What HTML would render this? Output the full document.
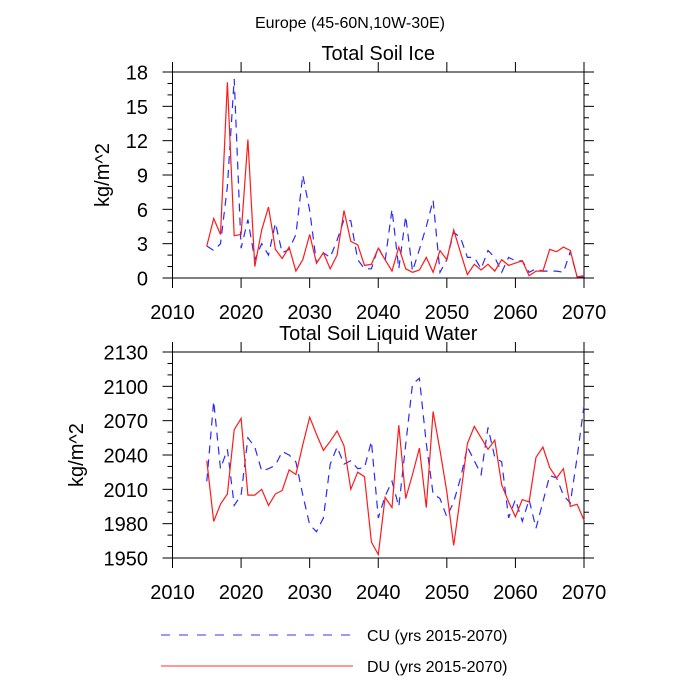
<!DOCTYPE html>
<html><head><meta charset="utf-8"><style>
html,body{margin:0;padding:0;background:#fff;}
svg{display:block;font-family:"Liberation Sans",sans-serif;}
</style></head><body>
<svg id="chart" width="700" height="700" viewBox="0 0 700 700">
<text x="350" y="28" font-size="16" text-anchor="middle">Europe (45-60N,10W-30E)</text>
<g id="p1"></g>
<g id="p2"></g>
<g>
<line x1="161" y1="635" x2="353" y2="635" stroke="#3030ff" stroke-width="1" stroke-dasharray="9,9"/>
<text x="367" y="641" font-size="16">CU (yrs 2015-2070)</text>
<line x1="161" y1="666" x2="353" y2="666" stroke="#ff3030" stroke-width="1"/>
<text x="367" y="672" font-size="16">DU (yrs 2015-2070)</text>
</g>
</svg>
<script>
const years = [];
for (let y = 2015; y <= 2070; y++) years.push(y);
const xTicks = [2010,2020,2030,2040,2050,2060,2070];
const iceTicks = [0,3,6,9,12,15,18];
const liqTicks = [1950,1980,2010,2040,2070,2100,2130];
const iceCU = [2.8,2.4,3.0,8.0,17.4,2.6,5.1,1.6,3.0,2.0,4.8,2.2,2.5,3.8,9.0,5.9,1.3,2.2,1.8,3.3,5.1,5.0,1.6,0.8,0.8,2.7,
  1.5,6.0,0.8,5.4,0.6,2.5,4.5,6.8,0.5,1.6,4.0,3.5,1.8,1.8,0.8,2.4,1.8,0.5,1.8,1.5,1.5,0.5,0.8,0.6,0.6,0.6,0.5,2.3,0.1,0.1];
const iceDU = [2.8,5.2,3.8,17.1,3.7,3.8,12.1,1.0,4.2,6.2,2.5,1.7,2.7,0.6,1.6,3.8,1.3,2.2,0.8,2.0,5.9,3.2,2.9,1.1,1.2,2.6,
  1.6,0.6,2.7,0.8,0.5,0.7,1.8,0.5,2.4,1.6,4.2,2.2,0.3,1.2,0.7,1.2,0.6,1.6,1.1,1.3,1.5,0.2,0.6,0.6,2.5,2.3,2.7,2.4,0.1,0.2];
const liqCU = [2017,2087,2028,2045,1996,2005,2055,2047,2026,2028,2031,2043,2040,2034,2005,1979,1973,1985,2032,2047,2032,2035,2028,2029,2052,1985,
  2004,2017,1995,2049,2102,2107,2050,2006,2002,1986,1999,2020,2047,2035,2023,2064,2038,2034,1985,2001,1982,2001,1976,1999,2022,2020,2005,1998,2038,2083];
const liqDU = [2035,1982,1997,2006,2062,2072,2005,2005,2010,1996,2006,2009,2027,2023,2049,2073,2058,2044,2052,2061,2048,2010,2025,2021,1964,1953,
  2003,1994,2066,2002,2023,2046,1994,2078,2044,2008,1961,2005,2050,2065,2055,2045,2053,2014,1999,1986,2001,1999,2038,2047,2029,2020,2028,1995,1997,1983];
const NS='http://www.w3.org/2000/svg';
function mk(tag, attrs, parent){const e=document.createElementNS(NS,tag);for(const k in attrs)e.setAttribute(k,attrs[k]);parent.appendChild(e);return e;}
const L=172.5,R=584;
const xs = v => L + (v-2010)*(R-L)/60;
function panel(g, top, bot, ymin, ymax, ticks, minorStep, cu, du, title, ylab, ylabX){
  const ys = v => bot - (v-ymin)*(bot-top)/(ymax-ymin);
  const fr = mk('rect',{x:L,y:top,width:R-L,height:bot-top,fill:'none',stroke:'#000','stroke-width':1},g);
  
  
  for(let v=ymin; v<=ymax+1e-9; v+=minorStep){
    const major = ticks.some(t=>Math.abs(t-v)<1e-6);
    const len = major?10:5;
    const y=ys(v);
    const t1=mk('line',{x1:L-len,y1:y,x2:L,y2:y,stroke:'#000','stroke-width':1},g);
    
    
    const t2=mk('line',{x1:R,y1:y,x2:R+len,y2:y,stroke:'#000','stroke-width':1},g);
    
    
  }
  ticks.forEach(t=>{
    const tx=mk('text',{x:148,y:ys(t)+7.5,'font-size':20,'text-anchor':'end'},g);
    tx.textContent=t;
    
    
  });
  xTicks.forEach(t=>{
    const x=xs(t);
    const a=mk('line',{x1:x,y1:bot,x2:x,y2:bot+10,stroke:'#000','stroke-width':1},g);
    
    
    const b=mk('line',{x1:x,y1:top-10,x2:x,y2:top,stroke:'#000','stroke-width':1},g);
    
    
    const tx=mk('text',{x:x,y:bot+41,'font-size':20,'text-anchor':'middle'},g);
    tx.textContent=t;
    
    
  });
  const tt=mk('text',{x:(L+R)/2,y:top-12,'font-size':20,'text-anchor':'middle'},g);
  tt.textContent=title;
  
  
  const cy=(top+bot)/2;
  const yl=mk('text',{x:ylabX,y:cy,'font-size':20,'text-anchor':'middle',transform:`rotate(-90 ${ylabX} ${cy})`},g);
  yl.textContent=ylab;
  
  
  const pts = arr => arr.map((v,i)=>xs(years[i]).toFixed(1)+','+ys(v).toFixed(1)).join(' ');
  const l1=mk('polyline',{points:pts(cu),fill:'none',stroke:'#2a2aff','stroke-width':1.2,'stroke-dasharray':'8,6'},g);
  
  
  const l2=mk('polyline',{points:pts(du),fill:'none',stroke:'#ff1a1a','stroke-width':1.2},g);
  
  
}
panel(document.getElementById('p1'),72,278,0,18,iceTicks,1,iceCU,iceDU,'Total Soil Ice','kg/m^2',109);
panel(document.getElementById('p2'),352,558,1950,2130,liqTicks,10,liqCU,liqDU,'Total Soil Liquid Water','kg/m^2',83);
</script>
</body></html>
